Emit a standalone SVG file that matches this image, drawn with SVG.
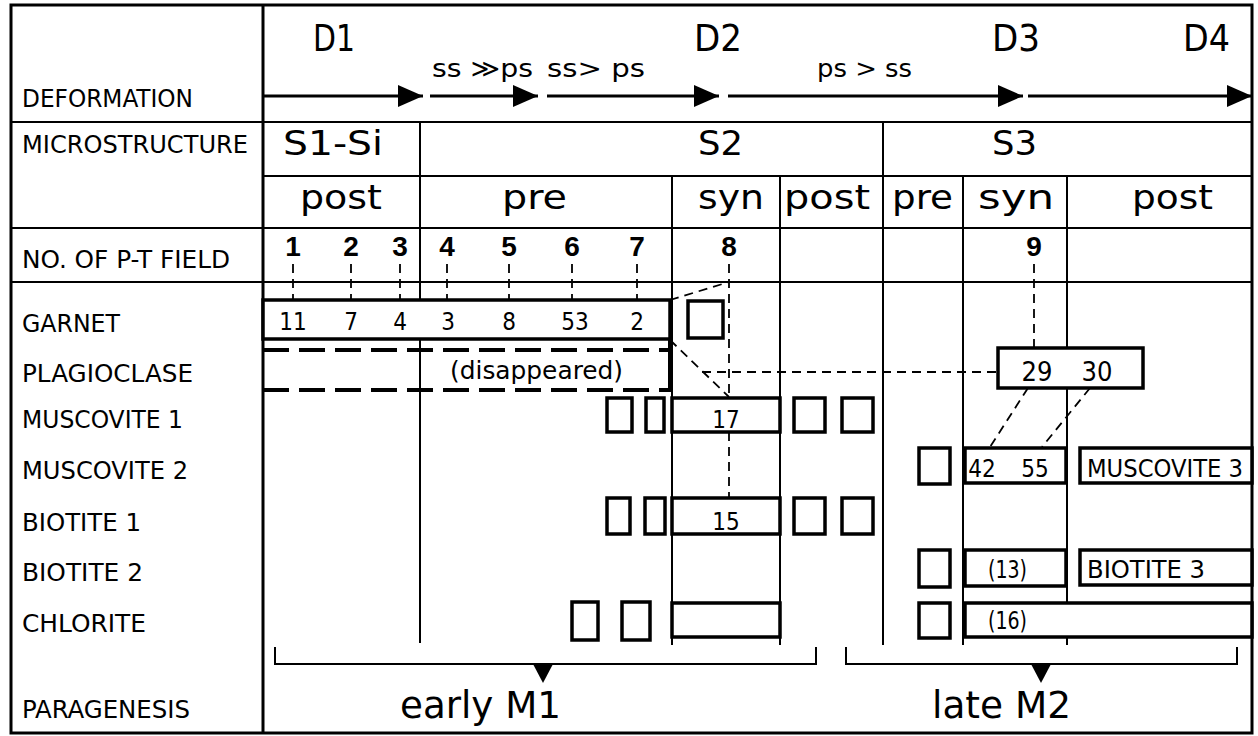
<svg xmlns="http://www.w3.org/2000/svg" width="1258" height="736" viewBox="0 0 1258 736">
<defs>
<marker id="ah" markerUnits="userSpaceOnUse" markerWidth="26" markerHeight="24" refX="25" refY="12" orient="auto">
<path d="M0,1 L25,12 L0,23 z" fill="#000"/>
</marker>
<style>
.lbl{font-family:"DejaVu Sans Condensed","DejaVu Sans",sans-serif;font-size:25px;fill:#000}
.big{font-size:37px}
.mid{font-size:33px}
.num{font-family:"Liberation Sans",Arial,sans-serif;font-weight:bold;font-size:28px;text-anchor:middle;fill:#000}
.val{font-size:24px;text-anchor:middle}
.grid{stroke:#000;stroke-width:2;fill:none}
.frame{stroke:#000;stroke-width:3;fill:none}
.box{stroke:#000;stroke-width:3.5;fill:#fff}
.dbox{stroke:#000;stroke-width:4;stroke-dasharray:26 10;fill:none}
.dash{stroke:#000;stroke-width:1.8;stroke-dasharray:9 6;fill:none}
.arrow{stroke:#000;stroke-width:3;fill:none;marker-end:url(#ah)}
.tri{fill:#000}
</style>
</defs>
<rect width="1258" height="736" fill="#fff"/>

<g id="grid">
<rect class="frame" x="11" y="5" width="1241" height="728"/>
<line class="frame" x1="263" y1="5" x2="263" y2="733"/>
<line class="grid" x1="11" y1="122" x2="1252" y2="122"/>
<line class="grid" x1="263" y1="176" x2="1252" y2="176"/>
<line class="grid" x1="11" y1="228" x2="1252" y2="228"/>
<line class="grid" x1="11" y1="282" x2="1252" y2="282"/>
<line class="grid" x1="420" y1="122" x2="420" y2="643"/>
<line class="grid" x1="883" y1="122" x2="883" y2="645"/>
<line class="grid" x1="672" y1="176" x2="672" y2="645"/>
<line class="grid" x1="780" y1="176" x2="780" y2="645"/>
<line class="grid" x1="963" y1="176" x2="963" y2="645"/>
<line class="grid" x1="1067" y1="176" x2="1067" y2="645"/>
</g>

<g id="row-labels">
<text class="lbl" x="22" y="107" textLength="171" lengthAdjust="spacingAndGlyphs">DEFORMATION</text>
<text class="lbl" x="22" y="153" textLength="226" lengthAdjust="spacingAndGlyphs">MICROSTRUCTURE</text>
<text class="lbl" x="22" y="268" textLength="208" lengthAdjust="spacingAndGlyphs">NO. OF P-T FIELD</text>
<text class="lbl" x="22" y="332" textLength="98" lengthAdjust="spacingAndGlyphs">GARNET</text>
<text class="lbl" x="22" y="382" textLength="171" lengthAdjust="spacingAndGlyphs">PLAGIOCLASE</text>
<text class="lbl" x="22" y="428" textLength="161" lengthAdjust="spacingAndGlyphs">MUSCOVITE 1</text>
<text class="lbl" x="22" y="479" textLength="166" lengthAdjust="spacingAndGlyphs">MUSCOVITE 2</text>
<text class="lbl" x="22" y="531" textLength="119" lengthAdjust="spacingAndGlyphs">BIOTITE 1</text>
<text class="lbl" x="22" y="581" textLength="121" lengthAdjust="spacingAndGlyphs">BIOTITE 2</text>
<text class="lbl" x="22" y="632" textLength="124" lengthAdjust="spacingAndGlyphs">CHLORITE</text>
<text class="lbl" x="22" y="718" textLength="168" lengthAdjust="spacingAndGlyphs">PARAGENESIS</text>
</g>

<g id="deformation">
<text class="lbl big" x="313" y="51" textLength="42" lengthAdjust="spacingAndGlyphs">D1</text>
<text class="lbl big" x="694" y="51" textLength="48" lengthAdjust="spacingAndGlyphs">D2</text>
<text class="lbl big" x="992" y="51" textLength="48" lengthAdjust="spacingAndGlyphs">D3</text>
<text class="lbl big" x="1183" y="51" textLength="47" lengthAdjust="spacingAndGlyphs">D4</text>
<text class="lbl" x="432" y="77" textLength="101" lengthAdjust="spacingAndGlyphs">ss ≫ps</text>
<text class="lbl" x="547" y="77" textLength="98" lengthAdjust="spacingAndGlyphs">ss&gt; ps</text>
<text class="lbl" x="817" y="77" textLength="95" lengthAdjust="spacingAndGlyphs">ps &gt; ss</text>
</g>

<g id="microstructure">
<text class="lbl mid" x="283" y="155" textLength="100" lengthAdjust="spacingAndGlyphs">S1-Si</text>
<text class="lbl mid" x="698" y="155" textLength="45" lengthAdjust="spacingAndGlyphs">S2</text>
<text class="lbl mid" x="992" y="155" textLength="45" lengthAdjust="spacingAndGlyphs">S3</text>
<text class="lbl mid" x="300" y="209" textLength="82" lengthAdjust="spacingAndGlyphs">post</text>
<text class="lbl mid" x="502" y="209" textLength="65" lengthAdjust="spacingAndGlyphs">pre</text>
<text class="lbl mid" x="698" y="209" textLength="66" lengthAdjust="spacingAndGlyphs">syn</text>
<text class="lbl mid" x="784" y="209" textLength="86" lengthAdjust="spacingAndGlyphs">post</text>
<text class="lbl mid" x="892" y="209" textLength="61" lengthAdjust="spacingAndGlyphs">pre</text>
<text class="lbl mid" x="978" y="209" textLength="76" lengthAdjust="spacingAndGlyphs">syn</text>
<text class="lbl mid" x="1132" y="209" textLength="81" lengthAdjust="spacingAndGlyphs">post</text>
</g>

<g id="pt-fields">
<text class="num" x="293" y="256">1</text>
<text class="num" x="351" y="256">2</text>
<text class="num" x="400" y="256">3</text>
<text class="num" x="447" y="256">4</text>
<text class="num" x="509" y="256">5</text>
<text class="num" x="572" y="256">6</text>
<text class="num" x="637" y="256">7</text>
<text class="num" x="729" y="256">8</text>
<text class="num" x="1034" y="256">9</text>
</g>

<g id="connectors">
<line class="arrow" x1="263" y1="96" x2="423" y2="96"/>
<line class="arrow" x1="430" y1="96" x2="538" y2="96"/>
<line class="arrow" x1="547" y1="96" x2="719" y2="96"/>
<line class="arrow" x1="728" y1="96" x2="1023" y2="96"/>
<line class="arrow" x1="1028" y1="96" x2="1252" y2="96"/>
<line class="dash" x1="293" y1="264" x2="293" y2="300"/>
<line class="dash" x1="351" y1="264" x2="351" y2="300"/>
<line class="dash" x1="400" y1="264" x2="400" y2="300"/>
<line class="dash" x1="447" y1="264" x2="447" y2="300"/>
<line class="dash" x1="509" y1="264" x2="509" y2="300"/>
<line class="dash" x1="572" y1="264" x2="572" y2="300"/>
<line class="dash" x1="637" y1="264" x2="637" y2="300"/>
<line class="dash" x1="729" y1="264" x2="729" y2="397"/>
<line class="dash" x1="729" y1="432" x2="729" y2="497"/>
<line class="dash" x1="1034" y1="264" x2="1034" y2="348"/>
<line class="dash" x1="670" y1="300" x2="729" y2="282"/>
<line class="dash" x1="670" y1="340" x2="729" y2="397"/>
<line class="dash" x1="702" y1="372" x2="998" y2="372"/>
<line class="dash" x1="1028" y1="388" x2="990" y2="447"/>
<line class="dash" x1="1090" y1="388" x2="1042" y2="447"/>
</g>

<g id="garnet">
<rect class="box" x="263" y="300" width="407" height="39"/>
<text class="lbl val" x="293" y="330">11</text>
<text class="lbl val" x="351" y="330">7</text>
<text class="lbl val" x="400" y="330">4</text>
<text class="lbl val" x="448" y="330">3</text>
<text class="lbl val" x="509" y="330">8</text>
<text class="lbl val" x="575" y="330">53</text>
<text class="lbl val" x="637" y="330">2</text>
<rect class="box" x="688" y="301" width="35" height="37"/>
</g>

<g id="plagioclase">
<line class="dbox" x1="263" y1="350" x2="668" y2="350"/>
<line class="dbox" x1="263" y1="390" x2="668" y2="390"/>
<line x1="670" y1="338" x2="670" y2="392" stroke="#000" stroke-width="4"/>
<text class="lbl" x="450" y="379" textLength="173" lengthAdjust="spacingAndGlyphs">(disappeared)</text>
<rect class="box" x="998" y="348" width="145" height="40"/>
<text class="lbl val" x="1037" y="381" style="font-size:27px">29</text>
<text class="lbl val" x="1097" y="381" style="font-size:27px">30</text>
</g>

<g id="muscovite1">
<rect class="box" x="607" y="398" width="25" height="34"/>
<rect class="box" x="646" y="398" width="18" height="34"/>
<rect class="box" x="672" y="398" width="108" height="34"/>
<text class="lbl val" x="726" y="428">17</text>
<rect class="box" x="794" y="398" width="31" height="34"/>
<rect class="box" x="842" y="398" width="31" height="34"/>
</g>

<g id="muscovite2">
<rect class="box" x="919" y="448" width="31" height="36"/>
<rect class="box" x="965" y="448" width="101" height="35"/>
<text class="lbl val" x="982" y="477">42</text>
<text class="lbl val" x="1035" y="477">55</text>
<rect class="box" x="1080" y="448" width="172" height="35"/>
<text class="lbl" x="1087" y="477" textLength="156" lengthAdjust="spacingAndGlyphs">MUSCOVITE 3</text>
</g>

<g id="biotite1">
<rect class="box" x="607" y="498" width="23" height="36"/>
<rect class="box" x="645" y="498" width="20" height="36"/>
<rect class="box" x="672" y="498" width="108" height="36"/>
<text class="lbl val" x="726" y="530">15</text>
<rect class="box" x="794" y="498" width="31" height="36"/>
<rect class="box" x="842" y="498" width="31" height="36"/>
</g>

<g id="biotite2">
<rect class="box" x="919" y="550" width="31" height="37"/>
<rect class="box" x="965" y="550" width="101" height="36"/>
<text class="lbl" x="988" y="578" textLength="39" lengthAdjust="spacingAndGlyphs">(13)</text>
<rect class="box" x="1080" y="550" width="172" height="35"/>
<text class="lbl" x="1087" y="578" textLength="118" lengthAdjust="spacingAndGlyphs">BIOTITE 3</text>
</g>

<g id="chlorite">
<rect class="box" x="572" y="602" width="26" height="38"/>
<rect class="box" x="622" y="602" width="28" height="38"/>
<rect class="box" x="672" y="603" width="108" height="34"/>
<rect class="box" x="919" y="603" width="31" height="35"/>
<rect class="box" x="965" y="603" width="287" height="34"/>
<text class="lbl" x="988" y="629" textLength="39" lengthAdjust="spacingAndGlyphs">(16)</text>
</g>

<g id="paragenesis">
<path class="grid" d="M275,647 V664 H816 V647"/>
<polygon class="tri" points="533,664 553,664 543,683"/>
<path class="grid" d="M846,647 V664 H1237 V647"/>
<polygon class="tri" points="1031,664 1051,664 1041,683"/>
<text class="lbl big" x="400" y="718" textLength="161" lengthAdjust="spacingAndGlyphs">early M1</text>
<text class="lbl big" x="932" y="718" textLength="139" lengthAdjust="spacingAndGlyphs">late M2</text>
</g>
</svg>
